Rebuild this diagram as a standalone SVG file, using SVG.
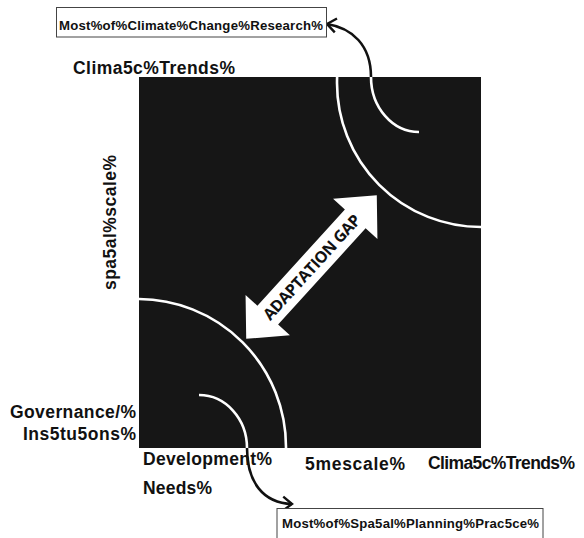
<svg xmlns="http://www.w3.org/2000/svg" width="584" height="538" viewBox="0 0 584 538">
  <style>
    .lbl { font-family: "Liberation Sans", Arial, sans-serif; font-weight: bold; fill: #111; }
    .box { fill: #fff; stroke: #444; stroke-width: 1; }
    .arc { fill: none; stroke: #fff; stroke-width: 2.6; }
    .link { fill: none; stroke: #111; stroke-width: 2.6; }
    .gap { font-family: "Open Sans", "DejaVu Sans", sans-serif; font-weight: bold; fill: #111; }
  </style>
  <defs>
    <clipPath id="field">
      <rect x="139" y="77" width="342" height="371"/>
    </clipPath>
    <marker id="open" viewBox="-12 -10 14 20" markerWidth="14" markerHeight="20" refX="0" refY="0" orient="auto" markerUnits="userSpaceOnUse">
      <path d="M-9,-7 L0,0 L-9,7" fill="none" stroke="#111" stroke-width="2.4"/>
    </marker>
  </defs>

  <rect width="584" height="538" fill="#fff"/>

  <!-- dark field with the two pairs of curves -->
  <g id="field-area">
    <rect x="139" y="77" width="342" height="371" fill="#161616"/>
    <g clip-path="url(#field)">
      <circle class="arc" cx="481" cy="83" r="144"/>
      <circle class="arc" cx="138" cy="447" r="148"/>
    </g>
    <path class="arc" d="M371,77 A48,55 0 0 0 419,132"/>
    <path class="arc" d="M199,395 A48,53 0 0 1 247,448"/>
  </g>

  <!-- connectors -->
  <g id="connectors">
    <path class="link" d="M371,77 C371,45 352,28 327,24" marker-end="url(#open)"/>
    <path class="link" d="M247,448 C247,482 263,503 292,504" marker-end="url(#open)"/>
  </g>

  <g id="box-research">
    <rect class="box" x="56.5" y="7.5" width="270" height="29.5"/>
    <text class="lbl" x="59" y="29.5" font-size="13.2" textLength="264">Most%of%Climate%Change%Research%</text>
  </g>

  <g id="box-planning">
    <rect class="box" x="277" y="508.5" width="266" height="32"/>
    <text class="lbl" x="282" y="528" font-size="13.2" textLength="257">Most%of%Spa5al%Planning%Prac5ce%</text>
  </g>

  <g id="label-climatic-top">
    <text class="lbl" x="73" y="74" font-size="17.5" textLength="162">Clima5c%Trends%</text>
  </g>
  <g id="label-spatial">
    <text class="lbl" transform="translate(116,290) rotate(-90)" x="0" y="0" font-size="17.5" textLength="135">spa5al%scale%</text>
  </g>
  <g id="label-governance">
    <text class="lbl" x="10" y="418" font-size="17.5" textLength="126">Governance/%</text>
    <text class="lbl" x="23" y="440" font-size="17.5" textLength="113">Ins5tu5ons%</text>
  </g>
  <g id="label-development">
    <text class="lbl" x="143" y="465" font-size="17.5" textLength="129">Development%</text>
    <text class="lbl" x="143" y="494" font-size="17.5" textLength="69">Needs%</text>
  </g>
  <g id="label-timescale">
    <text class="lbl" x="305" y="470" font-size="17.5" textLength="100">5mescale%</text>
  </g>
  <g id="label-climatic-bottom">
    <text class="lbl" x="428" y="469" font-size="17.5" textLength="147">Clima5c%Trends%</text>
  </g>

  <!-- double-headed gap arrow -->
  <g id="adaptation-gap" transform="translate(311.5,267) rotate(-47.7)">
    <path d="M-97,0 L-65,-30 L-65,-14 L65,-14 L65,-30 L97,0 L65,30 L65,14 L-65,14 L-65,30 Z" fill="#fff"/>
    <text class="gap" x="0" y="6" font-size="16" text-anchor="middle" textLength="136">ADAPTATION GAP</text>
  </g>
</svg>
